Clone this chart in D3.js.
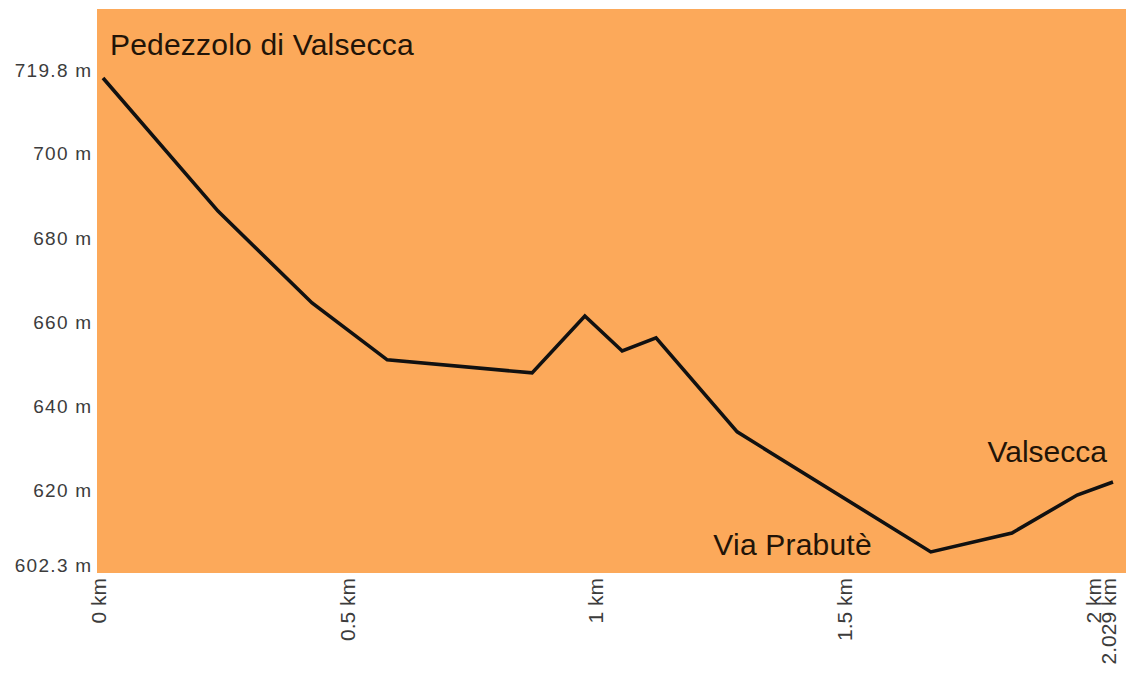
<!DOCTYPE html>
<html>
<head>
<meta charset="utf-8">
<script src="https://cdn.jsdelivr.net/npm/d3@7"></script>
<style>
  html, body { margin: 0; padding: 0; background: #ffffff; }
  svg { display: block; }
</style>
</head>
<body>
<svg id="chart" width="1126" height="677"></svg>
<script>
// ---- data ----
const distanceKm = [0, 0.231, 0.420, 0.571, 0.862, 0.968, 1.043, 1.111, 1.274, 1.663, 1.826, 1.957, 2.029];
const elevationM = [719.8, 688.2, 666.4, 652.9, 649.8, 663.3, 655.0, 658.1, 635.8, 607.3, 611.8, 620.8, 623.9];
const yTickValues = [602.3, 620, 640, 660, 680, 700, 719.8];
const yTickLabels = ["602.3 m", "620 m", "640 m", "660 m", "680 m", "700 m", "719.8 m"];
const xTickValues = [0, 0.5, 1, 1.5, 2, 2.029];
const xTickLabels = ["0 km", "0.5 km", "1 km", "1.5 km", "2 km", "2.029 km"];
const placeNames = ["Pedezzolo di Valsecca", "Via Prabutè", "Valsecca"];
const placeKm = [0, 1.663, 2.029];
const placeElev = [719.8, 607.3, 623.9];

// ---- layout ----
const plot = { left: 97, right: 1126, top: 9, bottom: 573 };
const svg = d3.select("#chart");
const FONT = "'Liberation Sans', Arial, sans-serif";

const x = d3.scaleLinear().domain([0, 2.029]).range([103, 1113]);
const y = d3.scaleLinear().domain([602.3, 719.8]).range([573, 78]);

// background
svg.append("rect")
  .attr("x", plot.left).attr("y", plot.top)
  .attr("width", plot.right - plot.left).attr("height", plot.bottom - plot.top)
  .attr("fill", "#fca95a");

// y axis (labels only)
const yAxis = d3.axisLeft(y).tickValues(yTickValues)
  .tickFormat((d, i) => yTickLabels[i]).tickSize(0).tickPadding(0);
const gy = svg.append("g").attr("transform", "translate(92.5,0)").call(yAxis);
gy.select(".domain").remove();
gy.selectAll("text")
  .attr("dy", "-0.08em")
  .attr("font-family", FONT)
  .attr("font-size", 19)
  .attr("letter-spacing", "1.3px")
  .attr("fill", "#3c3c3c");

// x axis (rotated labels)
const xAxis = d3.axisBottom(x).tickValues(xTickValues)
  .tickFormat((d, i) => xTickLabels[i]).tickSize(0).tickPadding(0);
const gx = svg.append("g").attr("transform", "translate(0,578)").call(xAxis);
gx.select(".domain").remove();
gx.selectAll("text")
  .attr("font-family", FONT)
  .attr("font-size", 21)
  .attr("fill", "#3c3c3c")
  .attr("text-anchor", "end")
  .attr("dy", "0.1em")
  .attr("transform", "rotate(-90)")
  .attr("x", 0).attr("y", 0);

// line
const pts = distanceKm.map((d, i) => [d, elevationM[i]]);
svg.append("path")
  .datum(pts)
  .attr("fill", "none")
  .attr("stroke", "#111")
  .attr("stroke-width", 3.6)
  .attr("stroke-linejoin", "miter")
  .attr("d", d3.line().x(d => x(d[0])).y(d => y(d[1])));

// place labels
const placeStyle = [
  { anchor: "start", dx: 7, dy: -23, ls: 0.2 },
  { anchor: "end", dx: -59, dy: 3, ls: 0.2 },
  { anchor: "end", dx: -6, dy: -20, ls: 0 }
];
svg.selectAll("text.place")
  .data(placeNames)
  .join("text")
  .attr("class", "place")
  .attr("x", (d, i) => x(placeKm[i]) + placeStyle[i].dx)
  .attr("y", (d, i) => y(placeElev[i]) + placeStyle[i].dy)
  .attr("text-anchor", (d, i) => placeStyle[i].anchor)
  .attr("font-family", FONT)
  .attr("font-size", 30)
  .attr("letter-spacing", (d, i) => placeStyle[i].ls + "px")
  .attr("fill", "#221408")
  .text(d => d);
</script>
</body>
</html>
